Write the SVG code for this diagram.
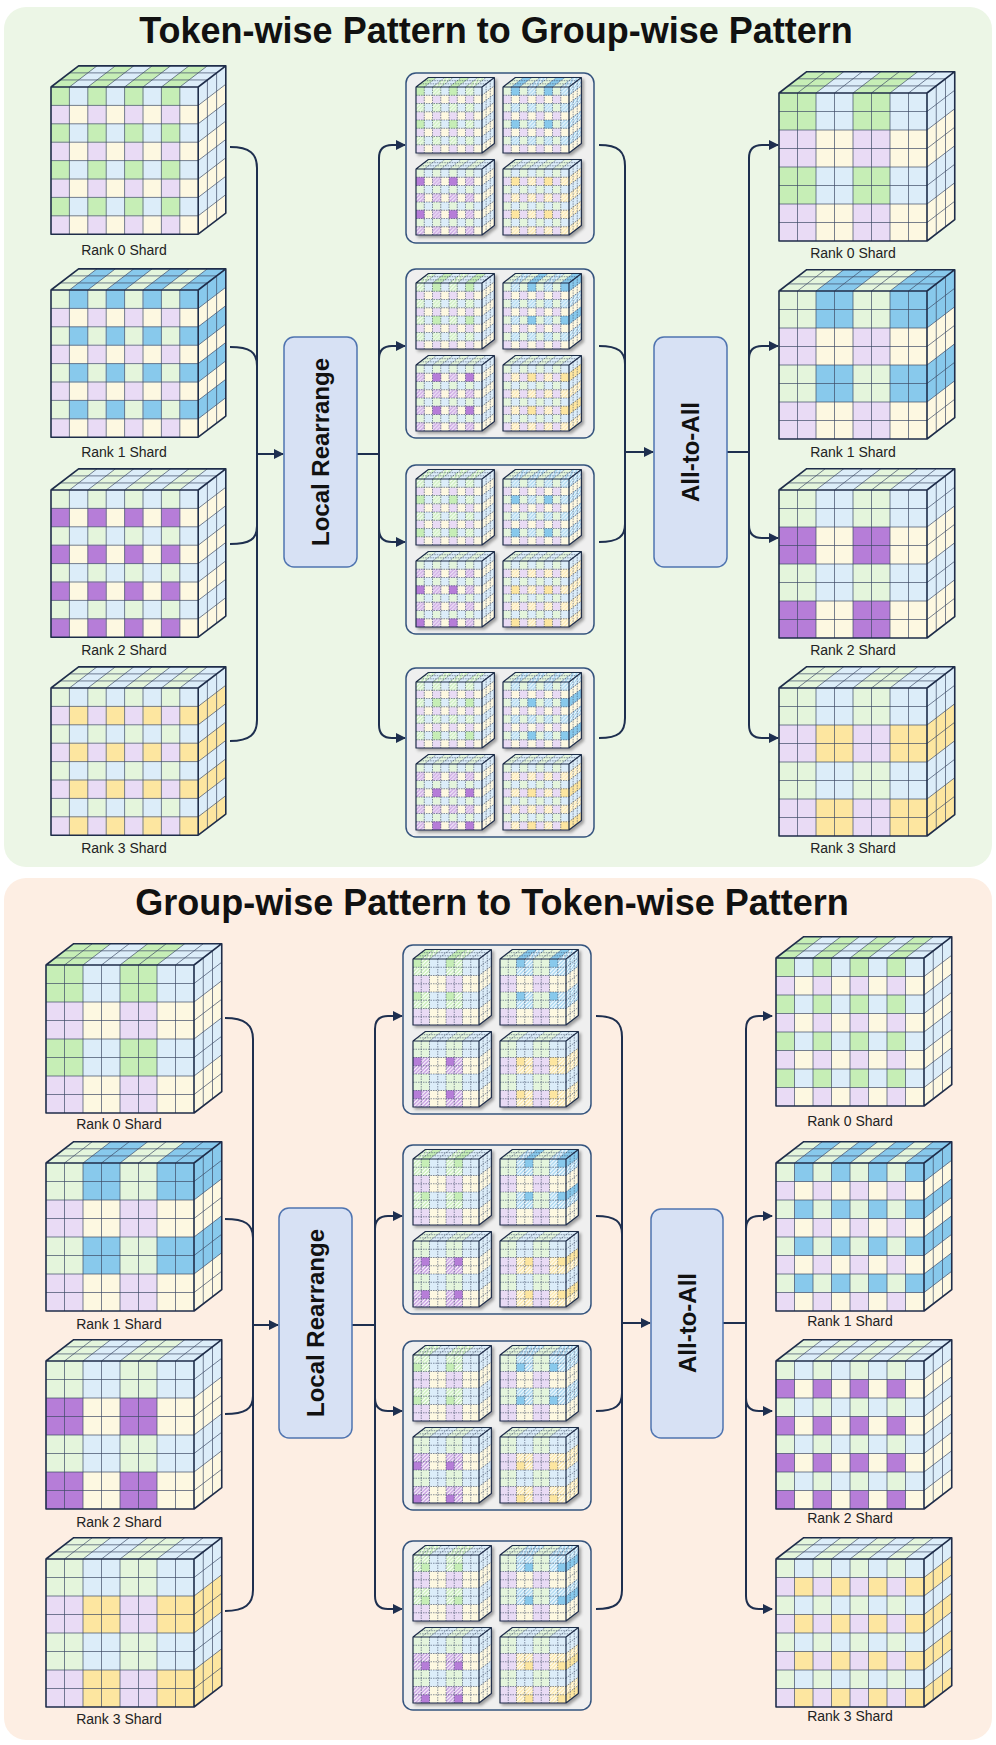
<svg xmlns="http://www.w3.org/2000/svg" xmlns:xlink="http://www.w3.org/1999/xlink" width="996" height="1745" viewBox="0 0 996 1745">
<style>
.title{font-family:"Liberation Sans",Arial,sans-serif;font-weight:bold;font-size:36px;fill:#111;text-anchor:middle}
.lbl{font-family:"Liberation Sans",Arial,sans-serif;font-size:14px;fill:#222;text-anchor:middle}
.op{font-family:"Liberation Sans",Arial,sans-serif;font-weight:bold;font-size:24px;fill:#111;text-anchor:middle}
.box{fill:#d7e1f4;stroke:#4f74b0;stroke-width:1.5}
.pnl{fill:#efefef;stroke:#35547e;stroke-width:1.5}
.con{fill:none;stroke:#1e2f4f;stroke-width:2}
.arr{fill:none;stroke:#1e2f4f;stroke-width:2;marker-end:url(#ah)}
.gl{fill:none;stroke:#3d4b66;stroke-width:0.7}
.gs{fill:none;stroke:#3d4b66;stroke-width:0.6;stroke-dasharray:1.5 1}
.ol{fill:none;stroke:#1f2d4a;stroke-width:1.6;stroke-linejoin:round}
.os{fill:none;stroke:#1f2d4a;stroke-width:1.2;stroke-linejoin:round}
</style>
<defs>
<marker id="ah" viewBox="0 0 10 10" refX="9" refY="5" markerWidth="5" markerHeight="5" orient="auto" markerUnits="strokeWidth"><path d="M0,0L10,5L0,10Z" fill="#1e2f4f"/></marker>
<filter id="sh" x="-20%" y="-20%" width="140%" height="140%"><feDropShadow dx="0.25" dy="0.25" stdDeviation="0.2" flood-color="#000" flood-opacity="0.35"/></filter>
<pattern id="st" patternUnits="userSpaceOnUse" width="0.45" height="0.45"><path d="M0,0.45L0.45,0M-0.1,0.1L0.1,-0.1M0.35,0.55L0.55,0.35" stroke="#fff" stroke-width="0.14"/></pattern>
<pattern id="bT" patternUnits="userSpaceOnUse" width="2" height="2"><rect width="1" height="1" fill="#e4f5dc"/><rect x="1" width="1" height="1" fill="#dcedf9"/><rect y="1" width="1" height="1" fill="#e9dbf5"/><rect x="1" y="1" width="1" height="1" fill="#fdf8e1"/></pattern>
<pattern id="bG" patternUnits="userSpaceOnUse" width="4" height="4"><rect width="2" height="2" fill="#e4f5dc"/><rect x="2" width="2" height="2" fill="#dcedf9"/><rect y="2" width="2" height="2" fill="#e9dbf5"/><rect x="2" y="2" width="2" height="2" fill="#fdf8e1"/></pattern>
<pattern id="tS0" patternUnits="userSpaceOnUse" width="2" height="2"><rect x="0" y="0" width="1" height="1" fill="#c6eeb6"/></pattern>
<pattern id="tS1" patternUnits="userSpaceOnUse" width="2" height="2"><rect x="1" y="0" width="1" height="1" fill="#88c9ec"/></pattern>
<pattern id="tS2" patternUnits="userSpaceOnUse" width="2" height="2"><rect x="0" y="1" width="1" height="1" fill="#b67dd8"/></pattern>
<pattern id="tS3" patternUnits="userSpaceOnUse" width="2" height="2"><rect x="1" y="1" width="1" height="1" fill="#fde6a0"/></pattern>
<pattern id="tH0" patternUnits="userSpaceOnUse" width="2" height="2"><rect x="0" y="0" width="1" height="1" fill="#c6eeb6"/><rect x="0" y="0" width="1" height="1" fill="url(#st)"/></pattern>
<pattern id="tH1" patternUnits="userSpaceOnUse" width="2" height="2"><rect x="1" y="0" width="1" height="1" fill="#9fd3f0"/><rect x="1" y="0" width="1" height="1" fill="url(#st)"/></pattern>
<pattern id="tH2" patternUnits="userSpaceOnUse" width="2" height="2"><rect x="0" y="1" width="1" height="1" fill="#c295de"/><rect x="0" y="1" width="1" height="1" fill="url(#st)"/></pattern>
<pattern id="tH3" patternUnits="userSpaceOnUse" width="2" height="2"><rect x="1" y="1" width="1" height="1" fill="#fde6a0"/><rect x="1" y="1" width="1" height="1" fill="url(#st)"/></pattern>
<pattern id="tJ00" patternUnits="userSpaceOnUse" width="4" height="4"><rect x="0" y="0" width="1" height="1" fill="#c6eeb6"/></pattern>
<pattern id="tJ01" patternUnits="userSpaceOnUse" width="4" height="4"><rect x="2" y="0" width="1" height="1" fill="#c6eeb6"/></pattern>
<pattern id="tJ02" patternUnits="userSpaceOnUse" width="4" height="4"><rect x="0" y="2" width="1" height="1" fill="#c6eeb6"/></pattern>
<pattern id="tJ03" patternUnits="userSpaceOnUse" width="4" height="4"><rect x="2" y="2" width="1" height="1" fill="#c6eeb6"/></pattern>
<pattern id="tJ10" patternUnits="userSpaceOnUse" width="4" height="4"><rect x="1" y="0" width="1" height="1" fill="#88c9ec"/></pattern>
<pattern id="tJ11" patternUnits="userSpaceOnUse" width="4" height="4"><rect x="3" y="0" width="1" height="1" fill="#88c9ec"/></pattern>
<pattern id="tJ12" patternUnits="userSpaceOnUse" width="4" height="4"><rect x="1" y="2" width="1" height="1" fill="#88c9ec"/></pattern>
<pattern id="tJ13" patternUnits="userSpaceOnUse" width="4" height="4"><rect x="3" y="2" width="1" height="1" fill="#88c9ec"/></pattern>
<pattern id="tJ20" patternUnits="userSpaceOnUse" width="4" height="4"><rect x="0" y="1" width="1" height="1" fill="#b67dd8"/></pattern>
<pattern id="tJ21" patternUnits="userSpaceOnUse" width="4" height="4"><rect x="2" y="1" width="1" height="1" fill="#b67dd8"/></pattern>
<pattern id="tJ22" patternUnits="userSpaceOnUse" width="4" height="4"><rect x="0" y="3" width="1" height="1" fill="#b67dd8"/></pattern>
<pattern id="tJ23" patternUnits="userSpaceOnUse" width="4" height="4"><rect x="2" y="3" width="1" height="1" fill="#b67dd8"/></pattern>
<pattern id="tJ30" patternUnits="userSpaceOnUse" width="4" height="4"><rect x="1" y="1" width="1" height="1" fill="#fde6a0"/></pattern>
<pattern id="tJ31" patternUnits="userSpaceOnUse" width="4" height="4"><rect x="3" y="1" width="1" height="1" fill="#fde6a0"/></pattern>
<pattern id="tJ32" patternUnits="userSpaceOnUse" width="4" height="4"><rect x="1" y="3" width="1" height="1" fill="#fde6a0"/></pattern>
<pattern id="tJ33" patternUnits="userSpaceOnUse" width="4" height="4"><rect x="3" y="3" width="1" height="1" fill="#fde6a0"/></pattern>
<pattern id="gS0" patternUnits="userSpaceOnUse" width="4" height="4"><rect x="0" y="0" width="2" height="2" fill="#c6eeb6"/></pattern>
<pattern id="gS1" patternUnits="userSpaceOnUse" width="4" height="4"><rect x="2" y="0" width="2" height="2" fill="#88c9ec"/></pattern>
<pattern id="gS2" patternUnits="userSpaceOnUse" width="4" height="4"><rect x="0" y="2" width="2" height="2" fill="#b67dd8"/></pattern>
<pattern id="gS3" patternUnits="userSpaceOnUse" width="4" height="4"><rect x="2" y="2" width="2" height="2" fill="#fde6a0"/></pattern>
<pattern id="gH0" patternUnits="userSpaceOnUse" width="4" height="4"><rect x="0" y="0" width="2" height="2" fill="#c6eeb6"/><rect x="0" y="0" width="2" height="2" fill="url(#st)"/></pattern>
<pattern id="gH1" patternUnits="userSpaceOnUse" width="4" height="4"><rect x="2" y="0" width="2" height="2" fill="#9fd3f0"/><rect x="2" y="0" width="2" height="2" fill="url(#st)"/></pattern>
<pattern id="gH2" patternUnits="userSpaceOnUse" width="4" height="4"><rect x="0" y="2" width="2" height="2" fill="#c295de"/><rect x="0" y="2" width="2" height="2" fill="url(#st)"/></pattern>
<pattern id="gH3" patternUnits="userSpaceOnUse" width="4" height="4"><rect x="2" y="2" width="2" height="2" fill="#fde6a0"/><rect x="2" y="2" width="2" height="2" fill="url(#st)"/></pattern>
<pattern id="gJ00" patternUnits="userSpaceOnUse" width="4" height="4"><rect x="0" y="0" width="1" height="1" fill="#c6eeb6"/></pattern>
<pattern id="gJ01" patternUnits="userSpaceOnUse" width="4" height="4"><rect x="1" y="0" width="1" height="1" fill="#c6eeb6"/></pattern>
<pattern id="gJ02" patternUnits="userSpaceOnUse" width="4" height="4"><rect x="0" y="1" width="1" height="1" fill="#c6eeb6"/></pattern>
<pattern id="gJ03" patternUnits="userSpaceOnUse" width="4" height="4"><rect x="1" y="1" width="1" height="1" fill="#c6eeb6"/></pattern>
<pattern id="gJ10" patternUnits="userSpaceOnUse" width="4" height="4"><rect x="2" y="0" width="1" height="1" fill="#88c9ec"/></pattern>
<pattern id="gJ11" patternUnits="userSpaceOnUse" width="4" height="4"><rect x="3" y="0" width="1" height="1" fill="#88c9ec"/></pattern>
<pattern id="gJ12" patternUnits="userSpaceOnUse" width="4" height="4"><rect x="2" y="1" width="1" height="1" fill="#88c9ec"/></pattern>
<pattern id="gJ13" patternUnits="userSpaceOnUse" width="4" height="4"><rect x="3" y="1" width="1" height="1" fill="#88c9ec"/></pattern>
<pattern id="gJ20" patternUnits="userSpaceOnUse" width="4" height="4"><rect x="0" y="2" width="1" height="1" fill="#b67dd8"/></pattern>
<pattern id="gJ21" patternUnits="userSpaceOnUse" width="4" height="4"><rect x="1" y="2" width="1" height="1" fill="#b67dd8"/></pattern>
<pattern id="gJ22" patternUnits="userSpaceOnUse" width="4" height="4"><rect x="0" y="3" width="1" height="1" fill="#b67dd8"/></pattern>
<pattern id="gJ23" patternUnits="userSpaceOnUse" width="4" height="4"><rect x="1" y="3" width="1" height="1" fill="#b67dd8"/></pattern>
<pattern id="gJ30" patternUnits="userSpaceOnUse" width="4" height="4"><rect x="2" y="2" width="1" height="1" fill="#fde6a0"/></pattern>
<pattern id="gJ31" patternUnits="userSpaceOnUse" width="4" height="4"><rect x="3" y="2" width="1" height="1" fill="#fde6a0"/></pattern>
<pattern id="gJ32" patternUnits="userSpaceOnUse" width="4" height="4"><rect x="2" y="3" width="1" height="1" fill="#fde6a0"/></pattern>
<pattern id="gJ33" patternUnits="userSpaceOnUse" width="4" height="4"><rect x="3" y="3" width="1" height="1" fill="#fde6a0"/></pattern>
<g id="F"><rect width="8" height="8"/><rect transform="matrix(1,0,1.5,-1.15,0,0)" width="8" height="1"/><rect transform="matrix(1.5,-1.15,0,1,8,0) translate(-3,0)" x="3" width="1" height="8"/></g>
<path id="gp" vector-effect="non-scaling-stroke" d="M1,0V8M2,0V8M3,0V8M4,0V8M5,0V8M6,0V8M7,0V8M0,1H8M0,2H8M0,3H8M0,4H8M0,5H8M0,6H8M0,7H8M1,0l1.5,-1.15M2,0l1.5,-1.15M3,0l1.5,-1.15M4,0l1.5,-1.15M5,0l1.5,-1.15M6,0l1.5,-1.15M7,0l1.5,-1.15M0.5,-0.383H8.5M1,-0.767H9M8,1l1.5,-1.15M8,2l1.5,-1.15M8,3l1.5,-1.15M8,4l1.5,-1.15M8,5l1.5,-1.15M8,6l1.5,-1.15M8,7l1.5,-1.15M8.5,-0.383V7.617M9,-0.767V7.233"/>
<path id="op" vector-effect="non-scaling-stroke" d="M0,0H8V8H0ZM0,0L1.5,-1.15H9.5V6.85L8,8M8,0L9.5,-1.15"/>
<g id="fL"><use href="#gp" class="gl"/><use href="#op" class="ol"/></g>
<g id="fS"><use href="#gp" class="gs"/><use href="#op" class="os"/></g>
<g id="T0"><use href="#F" fill="url(#bT)"/><use href="#F" fill="url(#tS0)"/><use href="#fL"/></g>
<g id="T1"><use href="#F" fill="url(#bT)"/><use href="#F" fill="url(#tS1)"/><use href="#fL"/></g>
<g id="T2"><use href="#F" fill="url(#bT)"/><use href="#F" fill="url(#tS2)"/><use href="#fL"/></g>
<g id="T3"><use href="#F" fill="url(#bT)"/><use href="#F" fill="url(#tS3)"/><use href="#fL"/></g>
<g id="G0"><use href="#F" fill="url(#bG)"/><use href="#F" fill="url(#gS0)"/><use href="#fL"/></g>
<g id="G1"><use href="#F" fill="url(#bG)"/><use href="#F" fill="url(#gS1)"/><use href="#fL"/></g>
<g id="G2"><use href="#F" fill="url(#bG)"/><use href="#F" fill="url(#gS2)"/><use href="#fL"/></g>
<g id="G3"><use href="#F" fill="url(#bG)"/><use href="#F" fill="url(#gS3)"/><use href="#fL"/></g>
</defs>

<rect x="4" y="7" width="988" height="860" rx="22" fill="#ecf6e6"/>
<rect x="4" y="878" width="988" height="862" rx="22" fill="#fdeee3"/>
<text class="title" x="496" y="43">Token-wise Pattern to Group-wise Pattern</text>
<text class="title" x="492" y="915">Group-wise Pattern to Token-wise Pattern</text>

<g id="connectors">
<path class="con" d="M230,147C250,147 257,154 257,168V720C257,734 250,741 230,741"/>
<path class="con" d="M230,347C250,347 257,352 257,366"/>
<path class="con" d="M230,544C250,544 257,539 257,526"/>
<path class="arr" d="M257,454H283"/>
<path class="con" d="M357,454H379"/>
<path class="arr" d="M379,454V158Q379,145 392,145H405"/>
<path class="arr" d="M379,454V359Q379,346 392,346H405"/>
<path class="arr" d="M379,454V529Q379,542 392,542H405"/>
<path class="arr" d="M379,454V725Q379,738 392,738H405"/>
<path class="con" d="M599,145C619,145 625,152 625,166V718C625,732 619,738 599,738"/>
<path class="con" d="M599,346C619,346 625,352 625,364"/>
<path class="con" d="M599,542C619,542 625,536 625,524"/>
<path class="arr" d="M625,452H653"/>
<path class="con" d="M727,452H749"/>
<path class="arr" d="M749,452V158Q749,145 762,145H778"/>
<path class="arr" d="M749,452V359Q749,346 762,346H778"/>
<path class="arr" d="M749,452V525Q749,538 762,538H778"/>
<path class="arr" d="M749,452V725Q749,738 762,738H778"/>

<path class="con" d="M225,1018C245,1018 253,1025 253,1039V1590C253,1604 245,1611 225,1611"/>
<path class="con" d="M225,1219C245,1219 253,1224 253,1238"/>
<path class="con" d="M225,1414C245,1414 253,1409 253,1396"/>
<path class="arr" d="M253,1325H278"/>
<path class="con" d="M352,1325H375"/>
<path class="arr" d="M375,1325V1029Q375,1016 388,1016H402"/>
<path class="arr" d="M375,1325V1229Q375,1216 388,1216H402"/>
<path class="arr" d="M375,1325V1398Q375,1411 388,1411H402"/>
<path class="arr" d="M375,1325V1596Q375,1609 388,1609H402"/>
<path class="con" d="M596,1016C616,1016 622,1023 622,1037V1590C622,1603 616,1609 596,1609"/>
<path class="con" d="M596,1216C616,1216 622,1222 622,1234"/>
<path class="con" d="M596,1411C616,1411 622,1405 622,1393"/>
<path class="arr" d="M622,1323H650"/>
<path class="con" d="M723,1323H746"/>
<path class="arr" d="M746,1323V1029Q746,1016 759,1016H772"/>
<path class="arr" d="M746,1323V1229Q746,1216 759,1216H772"/>
<path class="arr" d="M746,1323V1398Q746,1411 759,1411H772"/>
<path class="arr" d="M746,1323V1596Q746,1609 759,1609H772"/>
</g>

<g id="op-top-local"><rect class="box" x="284" y="337" width="73" height="230" rx="10"/><text class="op" transform="translate(329,452) rotate(-90)">Local Rearrange</text></g>
<g id="op-top-a2a"><rect class="box" x="654" y="337" width="73" height="230" rx="10"/><text class="op" transform="translate(699,452) rotate(-90)">All-to-All</text></g>
<g id="op-bot-local"><rect class="box" x="279" y="1208" width="73" height="230" rx="10"/><text class="op" transform="translate(324,1323) rotate(-90)">Local Rearrange</text></g>
<g id="op-bot-a2a"><rect class="box" x="651" y="1209" width="72" height="229" rx="10"/><text class="op" transform="translate(696,1323) rotate(-90)">All-to-All</text></g>

<g id="top-src">
<use href="#T0" transform="translate(51,87) scale(18.4)"/><text class="lbl" x="124" y="255">Rank 0 Shard</text>
<use href="#T1" transform="translate(51,290) scale(18.4)"/><text class="lbl" x="124" y="457">Rank 1 Shard</text>
<use href="#T2" transform="translate(51,490) scale(18.4)"/><text class="lbl" x="124" y="655">Rank 2 Shard</text>
<use href="#T3" transform="translate(51,688) scale(18.4)"/><text class="lbl" x="124" y="853">Rank 3 Shard</text>
</g>
<g id="top-dst">
<use href="#G0" transform="translate(779,93) scale(18.5)"/><text class="lbl" x="853" y="258">Rank 0 Shard</text>
<use href="#G1" transform="translate(779,291) scale(18.5)"/><text class="lbl" x="853" y="457">Rank 1 Shard</text>
<use href="#G2" transform="translate(779,490) scale(18.5)"/><text class="lbl" x="853" y="655">Rank 2 Shard</text>
<use href="#G3" transform="translate(779,688) scale(18.5)"/><text class="lbl" x="853" y="853">Rank 3 Shard</text>
</g>

<g id="top-mid0"><rect class="pnl" x="406" y="73" width="188" height="170" rx="10"/>
<g filter="url(#sh)" transform="translate(416,87) scale(8.25)"><use href="#F" fill="url(#bT)"/><use href="#F" fill="url(#tH0)"/><use href="#F" fill="url(#tJ00)"/><use href="#fS"/></g>
<g filter="url(#sh)" transform="translate(503,87) scale(8.25)"><use href="#F" fill="url(#bT)"/><use href="#F" fill="url(#tH1)"/><use href="#F" fill="url(#tJ10)"/><use href="#fS"/></g>
<g filter="url(#sh)" transform="translate(416,169) scale(8.25)"><use href="#F" fill="url(#bT)"/><use href="#F" fill="url(#tH2)"/><use href="#F" fill="url(#tJ20)"/><use href="#fS"/></g>
<g filter="url(#sh)" transform="translate(503,169) scale(8.25)"><use href="#F" fill="url(#bT)"/><use href="#F" fill="url(#tH3)"/><use href="#F" fill="url(#tJ30)"/><use href="#fS"/></g></g>
<g id="top-mid1"><rect class="pnl" x="406" y="269" width="188" height="169" rx="10"/>
<g filter="url(#sh)" transform="translate(416,283) scale(8.25)"><use href="#F" fill="url(#bT)"/><use href="#F" fill="url(#tH0)"/><use href="#F" fill="url(#tJ01)"/><use href="#fS"/></g>
<g filter="url(#sh)" transform="translate(503,283) scale(8.25)"><use href="#F" fill="url(#bT)"/><use href="#F" fill="url(#tH1)"/><use href="#F" fill="url(#tJ11)"/><use href="#fS"/></g>
<g filter="url(#sh)" transform="translate(416,365) scale(8.25)"><use href="#F" fill="url(#bT)"/><use href="#F" fill="url(#tH2)"/><use href="#F" fill="url(#tJ21)"/><use href="#fS"/></g>
<g filter="url(#sh)" transform="translate(503,365) scale(8.25)"><use href="#F" fill="url(#bT)"/><use href="#F" fill="url(#tH3)"/><use href="#F" fill="url(#tJ31)"/><use href="#fS"/></g></g>
<g id="top-mid2"><rect class="pnl" x="406" y="465" width="188" height="169" rx="10"/>
<g filter="url(#sh)" transform="translate(416,479) scale(8.25)"><use href="#F" fill="url(#bT)"/><use href="#F" fill="url(#tH0)"/><use href="#F" fill="url(#tJ02)"/><use href="#fS"/></g>
<g filter="url(#sh)" transform="translate(503,479) scale(8.25)"><use href="#F" fill="url(#bT)"/><use href="#F" fill="url(#tH1)"/><use href="#F" fill="url(#tJ12)"/><use href="#fS"/></g>
<g filter="url(#sh)" transform="translate(416,561) scale(8.25)"><use href="#F" fill="url(#bT)"/><use href="#F" fill="url(#tH2)"/><use href="#F" fill="url(#tJ22)"/><use href="#fS"/></g>
<g filter="url(#sh)" transform="translate(503,561) scale(8.25)"><use href="#F" fill="url(#bT)"/><use href="#F" fill="url(#tH3)"/><use href="#F" fill="url(#tJ32)"/><use href="#fS"/></g></g>
<g id="top-mid3"><rect class="pnl" x="406" y="668" width="188" height="169" rx="10"/>
<g filter="url(#sh)" transform="translate(416,682) scale(8.25)"><use href="#F" fill="url(#bT)"/><use href="#F" fill="url(#tH0)"/><use href="#F" fill="url(#tJ03)"/><use href="#fS"/></g>
<g filter="url(#sh)" transform="translate(503,682) scale(8.25)"><use href="#F" fill="url(#bT)"/><use href="#F" fill="url(#tH1)"/><use href="#F" fill="url(#tJ13)"/><use href="#fS"/></g>
<g filter="url(#sh)" transform="translate(416,764) scale(8.25)"><use href="#F" fill="url(#bT)"/><use href="#F" fill="url(#tH2)"/><use href="#F" fill="url(#tJ23)"/><use href="#fS"/></g>
<g filter="url(#sh)" transform="translate(503,764) scale(8.25)"><use href="#F" fill="url(#bT)"/><use href="#F" fill="url(#tH3)"/><use href="#F" fill="url(#tJ33)"/><use href="#fS"/></g></g>

<g id="bot-src">
<use href="#G0" transform="translate(46,965) scale(18.5)"/><text class="lbl" x="119" y="1129">Rank 0 Shard</text>
<use href="#G1" transform="translate(46,1163) scale(18.5)"/><text class="lbl" x="119" y="1329">Rank 1 Shard</text>
<use href="#G2" transform="translate(46,1361) scale(18.5)"/><text class="lbl" x="119" y="1527">Rank 2 Shard</text>
<use href="#G3" transform="translate(46,1559) scale(18.5)"/><text class="lbl" x="119" y="1724">Rank 3 Shard</text>
</g>
<g id="bot-dst">
<use href="#T0" transform="translate(776,958) scale(18.5)"/><text class="lbl" x="850" y="1126">Rank 0 Shard</text>
<use href="#T1" transform="translate(776,1163) scale(18.5)"/><text class="lbl" x="850" y="1326">Rank 1 Shard</text>
<use href="#T2" transform="translate(776,1361) scale(18.5)"/><text class="lbl" x="850" y="1523">Rank 2 Shard</text>
<use href="#T3" transform="translate(776,1559) scale(18.5)"/><text class="lbl" x="850" y="1721">Rank 3 Shard</text>
</g>

<g id="bot-mid0"><rect class="pnl" x="403" y="945" width="188" height="169" rx="10"/>
<g filter="url(#sh)" transform="translate(413,959) scale(8.25)"><use href="#F" fill="url(#bG)"/><use href="#F" fill="url(#gH0)"/><use href="#F" fill="url(#gJ00)"/><use href="#fS"/></g>
<g filter="url(#sh)" transform="translate(500,959) scale(8.25)"><use href="#F" fill="url(#bG)"/><use href="#F" fill="url(#gH1)"/><use href="#F" fill="url(#gJ10)"/><use href="#fS"/></g>
<g filter="url(#sh)" transform="translate(413,1041) scale(8.25)"><use href="#F" fill="url(#bG)"/><use href="#F" fill="url(#gH2)"/><use href="#F" fill="url(#gJ20)"/><use href="#fS"/></g>
<g filter="url(#sh)" transform="translate(500,1041) scale(8.25)"><use href="#F" fill="url(#bG)"/><use href="#F" fill="url(#gH3)"/><use href="#F" fill="url(#gJ30)"/><use href="#fS"/></g></g>
<g id="bot-mid1"><rect class="pnl" x="403" y="1145" width="188" height="169" rx="10"/>
<g filter="url(#sh)" transform="translate(413,1159) scale(8.25)"><use href="#F" fill="url(#bG)"/><use href="#F" fill="url(#gH0)"/><use href="#F" fill="url(#gJ01)"/><use href="#fS"/></g>
<g filter="url(#sh)" transform="translate(500,1159) scale(8.25)"><use href="#F" fill="url(#bG)"/><use href="#F" fill="url(#gH1)"/><use href="#F" fill="url(#gJ11)"/><use href="#fS"/></g>
<g filter="url(#sh)" transform="translate(413,1241) scale(8.25)"><use href="#F" fill="url(#bG)"/><use href="#F" fill="url(#gH2)"/><use href="#F" fill="url(#gJ21)"/><use href="#fS"/></g>
<g filter="url(#sh)" transform="translate(500,1241) scale(8.25)"><use href="#F" fill="url(#bG)"/><use href="#F" fill="url(#gH3)"/><use href="#F" fill="url(#gJ31)"/><use href="#fS"/></g></g>
<g id="bot-mid2"><rect class="pnl" x="403" y="1341" width="188" height="169" rx="10"/>
<g filter="url(#sh)" transform="translate(413,1355) scale(8.25)"><use href="#F" fill="url(#bG)"/><use href="#F" fill="url(#gH0)"/><use href="#F" fill="url(#gJ02)"/><use href="#fS"/></g>
<g filter="url(#sh)" transform="translate(500,1355) scale(8.25)"><use href="#F" fill="url(#bG)"/><use href="#F" fill="url(#gH1)"/><use href="#F" fill="url(#gJ12)"/><use href="#fS"/></g>
<g filter="url(#sh)" transform="translate(413,1437) scale(8.25)"><use href="#F" fill="url(#bG)"/><use href="#F" fill="url(#gH2)"/><use href="#F" fill="url(#gJ22)"/><use href="#fS"/></g>
<g filter="url(#sh)" transform="translate(500,1437) scale(8.25)"><use href="#F" fill="url(#bG)"/><use href="#F" fill="url(#gH3)"/><use href="#F" fill="url(#gJ32)"/><use href="#fS"/></g></g>
<g id="bot-mid3"><rect class="pnl" x="403" y="1541" width="188" height="169" rx="10"/>
<g filter="url(#sh)" transform="translate(413,1555) scale(8.25)"><use href="#F" fill="url(#bG)"/><use href="#F" fill="url(#gH0)"/><use href="#F" fill="url(#gJ03)"/><use href="#fS"/></g>
<g filter="url(#sh)" transform="translate(500,1555) scale(8.25)"><use href="#F" fill="url(#bG)"/><use href="#F" fill="url(#gH1)"/><use href="#F" fill="url(#gJ13)"/><use href="#fS"/></g>
<g filter="url(#sh)" transform="translate(413,1637) scale(8.25)"><use href="#F" fill="url(#bG)"/><use href="#F" fill="url(#gH2)"/><use href="#F" fill="url(#gJ23)"/><use href="#fS"/></g>
<g filter="url(#sh)" transform="translate(500,1637) scale(8.25)"><use href="#F" fill="url(#bG)"/><use href="#F" fill="url(#gH3)"/><use href="#F" fill="url(#gJ33)"/><use href="#fS"/></g></g>
</svg>
